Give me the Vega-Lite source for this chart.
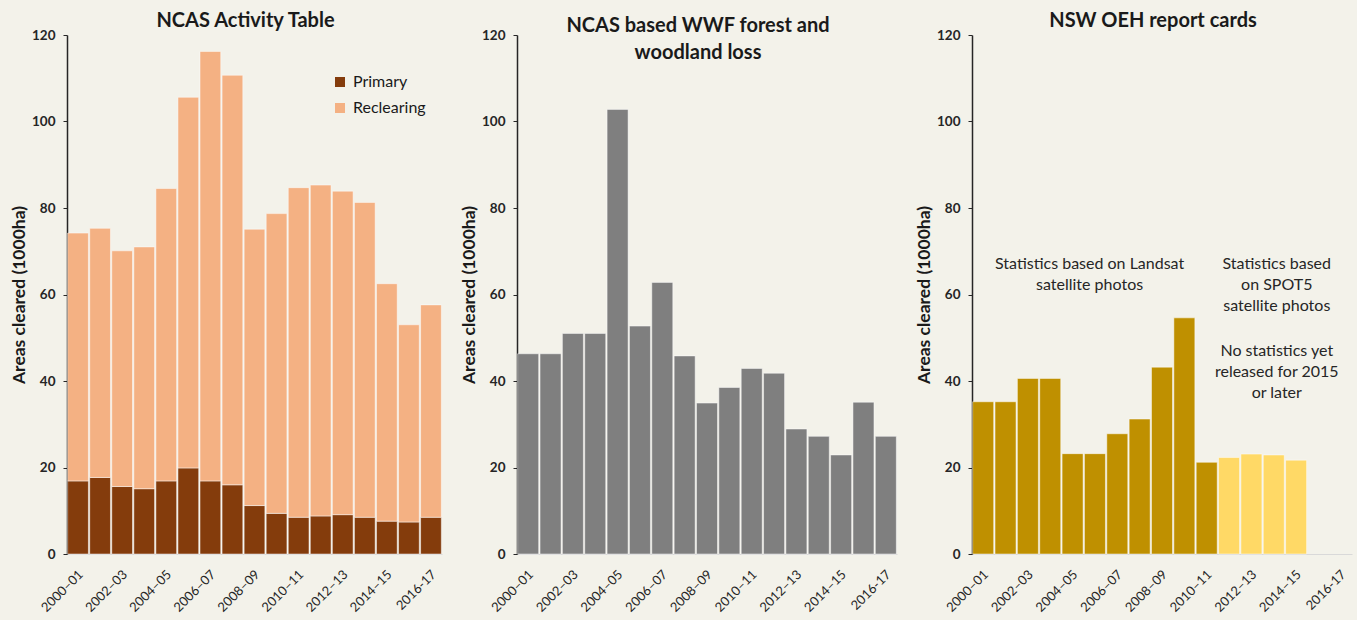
{
  "$schema": "https://vega.github.io/schema/vega-lite/v6.json",
  "background": "#f3f2ea",
  "padding": {"left": 10, "top": 11, "right": 5, "bottom": 5},
  "bounds": "flush",
  "spacing": 75,
  "config": {
    "view": {"stroke": null},
    "font": "Lato",
    "title": {"fontSize": 20, "fontWeight": "bold", "color": "#1a1a1a", "dx": -9, "offset": -3, "font": "Lato"},
    "axis": {"grid": false, "labelFont": "Lato", "titleFont": "Lato"},
    "axisY": {"domainColor": "#262626", "domainWidth": 1.5, "tickColor": "#262626", "tickSize": 4, "tickWidth": 1, "labelFontSize": 13.5, "labelFontWeight": "bold", "labelColor": "#262626", "labelPadding": 8, "titleFontSize": 17.5, "titleFontWeight": "bold", "titleColor": "#1a1a1a", "titlePadding": 3},
    "axisX": {"domainColor": "#d9d9d9", "domainWidth": 1, "ticks": false, "labelAngle": -45, "labelAlign": "right", "labelBaseline": "middle", "labelFontSize": 13, "labelColor": "#262626", "labelPadding": 18, "labelOffset": 3}
  },
  "datasets": {
    "ncas": [
      {"year": "2000–01", "type": "Primary", "value": 16.9}, {"year": "2000–01", "type": "Reclearing", "value": 57.3},
      {"year": "2001–02", "type": "Primary", "value": 17.7}, {"year": "2001–02", "type": "Reclearing", "value": 57.6},
      {"year": "2002–03", "type": "Primary", "value": 15.6}, {"year": "2002–03", "type": "Reclearing", "value": 54.5},
      {"year": "2003–04", "type": "Primary", "value": 15.1}, {"year": "2003–04", "type": "Reclearing", "value": 55.9},
      {"year": "2004–05", "type": "Primary", "value": 16.9}, {"year": "2004–05", "type": "Reclearing", "value": 67.6},
      {"year": "2005–06", "type": "Primary", "value": 19.9}, {"year": "2005–06", "type": "Reclearing", "value": 85.7},
      {"year": "2006–07", "type": "Primary", "value": 16.9}, {"year": "2006–07", "type": "Reclearing", "value": 99.3},
      {"year": "2007–08", "type": "Primary", "value": 16.0}, {"year": "2007–08", "type": "Reclearing", "value": 94.7},
      {"year": "2008–09", "type": "Primary", "value": 11.2}, {"year": "2008–09", "type": "Reclearing", "value": 63.9},
      {"year": "2009–10", "type": "Primary", "value": 9.4}, {"year": "2009–10", "type": "Reclearing", "value": 69.3},
      {"year": "2010–11", "type": "Primary", "value": 8.5}, {"year": "2010–11", "type": "Reclearing", "value": 76.2},
      {"year": "2011–12", "type": "Primary", "value": 8.8}, {"year": "2011–12", "type": "Reclearing", "value": 76.5},
      {"year": "2012–13", "type": "Primary", "value": 9.1}, {"year": "2012–13", "type": "Reclearing", "value": 74.8},
      {"year": "2013–14", "type": "Primary", "value": 8.5}, {"year": "2013–14", "type": "Reclearing", "value": 72.8},
      {"year": "2014–15", "type": "Primary", "value": 7.6}, {"year": "2014–15", "type": "Reclearing", "value": 54.9},
      {"year": "2015–16", "type": "Primary", "value": 7.4}, {"year": "2015–16", "type": "Reclearing", "value": 45.6},
      {"year": "2016-17", "type": "Primary", "value": 8.5}, {"year": "2016-17", "type": "Reclearing", "value": 49.1}
    ],
    "wwf": [
      {"year": "2000–01", "value": 46.3}, {"year": "2001–02", "value": 46.3}, {"year": "2002–03", "value": 51.0},
      {"year": "2003–04", "value": 51.0}, {"year": "2004–05", "value": 102.8}, {"year": "2005–06", "value": 52.7},
      {"year": "2006–07", "value": 62.8}, {"year": "2007–08", "value": 45.8}, {"year": "2008–09", "value": 34.9},
      {"year": "2009–10", "value": 38.5}, {"year": "2010–11", "value": 42.9}, {"year": "2011–12", "value": 41.8},
      {"year": "2012–13", "value": 28.9}, {"year": "2013–14", "value": 27.2}, {"year": "2014–15", "value": 22.9},
      {"year": "2015–16", "value": 35.1}, {"year": "2016-17", "value": 27.2}
    ],
    "oeh": [
      {"year": "2000–01", "sensor": "Landsat", "value": 35.2}, {"year": "2001–02", "sensor": "Landsat", "value": 35.2},
      {"year": "2002–03", "sensor": "Landsat", "value": 40.6}, {"year": "2003–04", "sensor": "Landsat", "value": 40.6},
      {"year": "2004–05", "sensor": "Landsat", "value": 23.2}, {"year": "2005–06", "sensor": "Landsat", "value": 23.2},
      {"year": "2006–07", "sensor": "Landsat", "value": 27.8}, {"year": "2007–08", "sensor": "Landsat", "value": 31.2},
      {"year": "2008–09", "sensor": "Landsat", "value": 43.2}, {"year": "2009–10", "sensor": "Landsat", "value": 54.6},
      {"year": "2010–11", "sensor": "Landsat", "value": 21.2}, {"year": "2011–12", "sensor": "SPOT5", "value": 22.3},
      {"year": "2012–13", "sensor": "SPOT5", "value": 23.1}, {"year": "2013–14", "sensor": "SPOT5", "value": 22.9},
      {"year": "2014–15", "sensor": "SPOT5", "value": 21.7}
    ],
    "noteLeft": [
      {"year": "2004–05", "y": 69.0, "text": "Statistics based on Landsat\nsatellite photos"}
    ],
    "noteRight": [
      {"year": "2013–14", "y": 69.0, "text": "Statistics based\non SPOT5\nsatellite photos"},
      {"year": "2013–14", "y": 48.8, "text": "No statistics  yet\nreleased for 2015\nor later"}
    ]
  },
  "resolve": {"scale": {"color": "independent", "x": "independent", "y": "independent"}, "legend": {"color": "independent"}},
  "hconcat": [
    {
      "width": 375,
      "height": 519,
      "title": {"text": "NCAS Activity Table"},
      "data": {"name": "ncas"},
      "mark": {"type": "bar", "stroke": "#ffffff", "strokeWidth": 0.8, "strokeOpacity": 0.6},
      "encoding": {
        "x": {"field": "year", "type": "ordinal",
          "scale": {"domain": ["2000–01","2001–02","2002–03","2003–04","2004–05","2005–06","2006–07","2007–08","2008–09","2009–10","2010–11","2011–12","2012–13","2013–14","2014–15","2015–16","2016-17"], "paddingInner": 0.06, "paddingOuter": 0.03},
          "axis": {"title": null, "values": ["2000–01","2002–03","2004–05","2006–07","2008–09","2010–11","2012–13","2014–15","2016-17"]}},
        "y": {"field": "value", "type": "quantitative", "stack": "zero", "scale": {"domain": [0, 120]},
          "axis": {"title": "Areas cleared (1000ha)", "values": [0, 20, 40, 60, 80, 100, 120]}},
        "color": {"field": "type", "type": "nominal",
          "scale": {"domain": ["Primary", "Reclearing"], "range": ["#843c0c", "#f4b183"]},
          "legend": {"title": null, "orient": "none", "legendX": 265, "legendY": 39, "symbolType": "square", "symbolSize": 100, "symbolStrokeWidth": 0, "labelFontSize": 16, "labelFont": "Lato", "labelColor": "#1a1a1a", "labelOffset": 5, "rowPadding": 10}},
        "order": {"field": "type", "sort": "ascending"}
      }
    },
    {
      "width": 380,
      "height": 519,
      "title": {"text": ["NCAS based WWF forest and", "woodland loss"], "offset": -35, "lineHeight": 27},
      "data": {"name": "wwf"},
      "mark": {"type": "bar", "color": "#7f7f7f", "stroke": "#ffffff", "strokeWidth": 0.8, "strokeOpacity": 0.6},
      "encoding": {
        "x": {"field": "year", "type": "ordinal",
          "scale": {"domain": ["2000–01","2001–02","2002–03","2003–04","2004–05","2005–06","2006–07","2007–08","2008–09","2009–10","2010–11","2011–12","2012–13","2013–14","2014–15","2015–16","2016-17"], "paddingInner": 0.06, "paddingOuter": 0.03},
          "axis": {"title": null, "values": ["2000–01","2002–03","2004–05","2006–07","2008–09","2010–11","2012–13","2014–15","2016-17"]}},
        "y": {"field": "value", "type": "quantitative", "scale": {"domain": [0, 120]},
          "axis": {"title": "Areas cleared (1000ha)", "values": [0, 20, 40, 60, 80, 100, 120]}}
      }
    },
    {
      "width": 380,
      "height": 519,
      "title": {"text": "NSW OEH report cards"},
      "layer": [
        {
          "data": {"name": "oeh"},
          "mark": {"type": "bar", "stroke": "#ffffff", "strokeWidth": 0.8, "strokeOpacity": 0.6},
          "encoding": {
            "x": {"field": "year", "type": "ordinal",
              "scale": {"domain": ["2000–01","2001–02","2002–03","2003–04","2004–05","2005–06","2006–07","2007–08","2008–09","2009–10","2010–11","2011–12","2012–13","2013–14","2014–15","2015–16","2016-17"], "paddingInner": 0.06, "paddingOuter": 0.03},
              "axis": {"title": null, "values": ["2000–01","2002–03","2004–05","2006–07","2008–09","2010–11","2012–13","2014–15","2016-17"]}},
            "y": {"field": "value", "type": "quantitative", "scale": {"domain": [0, 120]},
              "axis": {"title": "Areas cleared (1000ha)", "values": [0, 20, 40, 60, 80, 100, 120]}},
            "color": {"field": "sensor", "type": "nominal", "scale": {"domain": ["Landsat", "SPOT5"], "range": ["#bf9000", "#ffd966"]}, "legend": null}
          }
        },
        {
          "data": {"name": "noteLeft"},
          "mark": {"type": "text", "lineBreak": "\n", "align": "center", "baseline": "top", "fontSize": 16, "lineHeight": 21, "font": "Lato", "color": "#262626", "dx": 17},
          "encoding": {
            "x": {"field": "year", "type": "ordinal"},
            "y": {"field": "y", "type": "quantitative"},
            "text": {"field": "text"}
          }
        },
        {
          "data": {"name": "noteRight"},
          "mark": {"type": "text", "lineBreak": "\n", "align": "center", "baseline": "top", "fontSize": 16, "lineHeight": 21, "font": "Lato", "color": "#262626", "dx": 3},
          "encoding": {
            "x": {"field": "year", "type": "ordinal"},
            "y": {"field": "y", "type": "quantitative"},
            "text": {"field": "text"}
          }
        }
      ]
    }
  ]
}
